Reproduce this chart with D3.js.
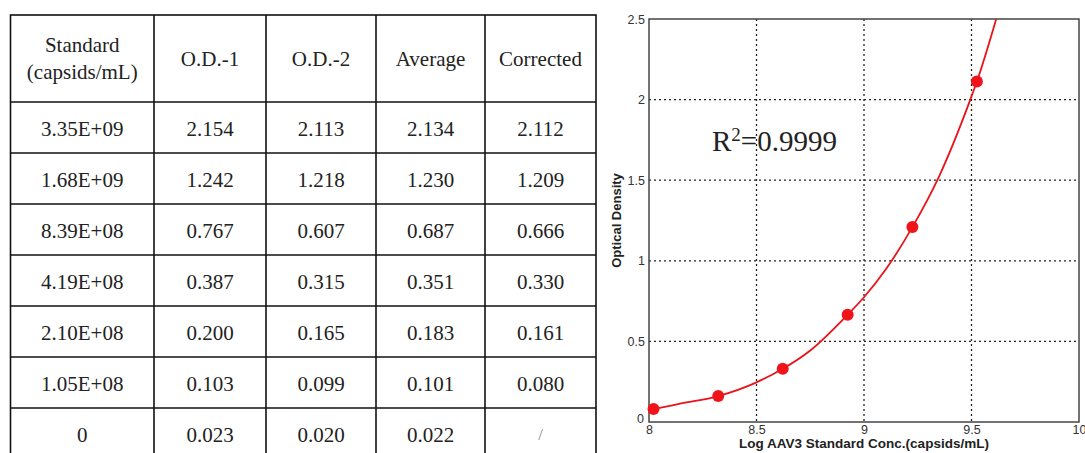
<!DOCTYPE html>
<html>
<head>
<meta charset="utf-8">
<script src="https://cdn.jsdelivr.net/npm/d3@7"></script>
<style>
  body { margin: 0; background: #fff; }
  svg { display: block; }
  .cell { font-family: "Liberation Serif", "Times New Roman", serif; font-size: 21px; fill: #222; }
  .tick text { font-family: "Liberation Sans", Arial, sans-serif; font-size: 12.5px; fill: #333; }
  .title { font-family: "Liberation Sans", Arial, sans-serif; font-size: 13px; font-weight: bold; fill: #222; }
</style>
</head>
<body>
<script>
// table data
var headers = [["Standard", "(capsids/mL)"], ["O.D.-1"], ["O.D.-2"], ["Average"], ["Corrected"]];
var standards = ["3.35E+09", "1.68E+09", "8.39E+08", "4.19E+08", "2.10E+08", "1.05E+08", "0"];
var od1 = ["2.154", "1.242", "0.767", "0.387", "0.200", "0.103", "0.023"];
var od2 = ["2.113", "1.218", "0.607", "0.315", "0.165", "0.099", "0.020"];
var average = ["2.134", "1.230", "0.687", "0.351", "0.183", "0.101", "0.022"];
var corrected = ["2.112", "1.209", "0.666", "0.330", "0.161", "0.080", "/"];

// standard curve points (log conc vs corrected OD)
var logConc = [9.525, 9.225, 8.924, 8.622, 8.322, 8.021];
var odPoints = [2.112, 1.209, 0.666, 0.330, 0.161, 0.080];
// fitted curve
var fitX = [8.0, 8.021, 8.15, 8.322, 8.5, 8.622, 8.75, 8.924, 9.0, 9.1, 9.225, 9.35, 9.5, 9.525, 9.615];
var fitY = [0.074, 0.080, 0.115, 0.161, 0.246, 0.330, 0.444, 0.666, 0.774, 0.944, 1.209, 1.526, 2.02, 2.112, 2.5];
var xTicks = [8, 8.5, 9, 9.5, 10];
var yTicks = [0, 0.5, 1, 1.5, 2, 2.5];

var svg = d3.select("body").append("svg").attr("width", 1085).attr("height", 453);

// ---- table ----
var colEdges = [10.5, 154, 266, 376, 485, 596];
var tableTop = 15, headH = 87, rowH = 51;
var rowY = d3.scaleBand().domain(d3.range(standards.length))
    .range([tableTop + headH, tableTop + headH + rowH * standards.length]);
var columns = [standards, od1, od2, average, corrected];

var table = svg.append("g").attr("class", "table");
table.append("rect")
    .attr("x", colEdges[0]).attr("y", tableTop)
    .attr("width", colEdges[5] - colEdges[0]).attr("height", headH + rowH * standards.length)
    .attr("fill", "none").attr("stroke", "#111").attr("stroke-width", 1.6);
table.selectAll("line.col").data(colEdges.slice(1, 5)).enter().append("line")
    .attr("class", "col")
    .attr("x1", function (d) { return d; }).attr("x2", function (d) { return d; })
    .attr("y1", tableTop).attr("y2", tableTop + headH + rowH * standards.length)
    .attr("stroke", "#111").attr("stroke-width", 1.6);
table.selectAll("line.row").data(d3.range(standards.length)).enter().append("line")
    .attr("class", "row")
    .attr("x1", colEdges[0]).attr("x2", colEdges[5])
    .attr("y1", function (d) { return rowY(d); }).attr("y2", function (d) { return rowY(d); })
    .attr("stroke", "#111").attr("stroke-width", 1.6);

headers.forEach(function (lines, c) {
  var cx = (colEdges[c] + colEdges[c + 1]) / 2;
  var cy = tableTop + headH / 2;
  lines.forEach(function (t, i) {
    table.append("text").attr("class", "cell")
        .attr("x", cx).attr("y", cy + (i - (lines.length - 1) / 2) * 27)
        .attr("text-anchor", "middle").attr("dominant-baseline", "central")
        .text(t);
  });
});

columns.forEach(function (col, c) {
  var cx = (colEdges[c] + colEdges[c + 1]) / 2;
  table.selectAll("text.c" + c).data(col).enter().append("text")
      .attr("class", "cell c" + c)
      .attr("x", cx)
      .attr("y", function (d, i) { return rowY(i) + rowY.bandwidth() / 2 + 1; })
      .attr("text-anchor", "middle").attr("dominant-baseline", "central")
      .style("font-size", function (d) { return d === "/" ? "17px" : null; })
      .style("fill", function (d) { return d === "/" ? "#888" : null; })
      .text(function (d) { return d; });
});

// ---- chart ----
var plot = { left: 649, top: 19, right: 1079, bottom: 422 };
var x = d3.scaleLinear().domain([8, 10]).range([plot.left, plot.right]);
var y = d3.scaleLinear().domain([0, 2.5]).range([plot.bottom, plot.top]);

var chart = svg.append("g").attr("class", "chart");

chart.selectAll("line.vgrid").data(xTicks.slice(1, -1)).enter().append("line")
    .attr("class", "vgrid")
    .attr("x1", function (d) { return x(d); }).attr("x2", function (d) { return x(d); })
    .attr("y1", plot.top).attr("y2", plot.bottom)
    .attr("stroke", "#222").attr("stroke-width", 1.3).attr("stroke-dasharray", "2,3");
chart.selectAll("line.hgrid").data(yTicks.slice(1, -1)).enter().append("line")
    .attr("class", "hgrid")
    .attr("x1", plot.left).attr("x2", plot.right)
    .attr("y1", function (d) { return y(d); }).attr("y2", function (d) { return y(d); })
    .attr("stroke", "#222").attr("stroke-width", 1.3).attr("stroke-dasharray", "2,3");

var xAxis = chart.append("g").attr("transform", "translate(0," + plot.bottom + ")")
    .call(d3.axisBottom(x).tickValues(xTicks).tickSize(0).tickPadding(3)
      .tickFormat(function (d) { return String(d); }));
var yAxis = chart.append("g").attr("transform", "translate(" + plot.left + ",0)")
    .call(d3.axisLeft(y).tickValues(yTicks).tickSize(0).tickPadding(4)
      .tickFormat(function (d) { return String(d); }));
xAxis.select(".domain").remove();
yAxis.select(".domain").remove();
// zero label sits a bit left, as in the original
yAxis.selectAll(".tick text").filter(function (d) { return d === 0; }).attr("dx", -1).attr("dy", "0.05em");

chart.append("rect")
    .attr("x", plot.left).attr("y", plot.top)
    .attr("width", plot.right - plot.left).attr("height", plot.bottom - plot.top)
    .attr("fill", "none").attr("stroke", "#444").attr("stroke-width", 1.5);

var fit = fitX.map(function (d, i) { return [d, fitY[i]]; });
chart.append("path").datum(fit)
    .attr("fill", "none").attr("stroke", "#e8141a").attr("stroke-width", 1.8)
    .attr("d", d3.line().x(function (d) { return x(d[0]); }).y(function (d) { return y(d[1]); })
      .curve(d3.curveMonotoneX));

chart.selectAll("circle.pt").data(logConc).enter().append("circle")
    .attr("class", "pt")
    .attr("cx", function (d) { return x(d); })
    .attr("cy", function (d, i) { return y(odPoints[i]); })
    .attr("r", 6).attr("fill", "#f0141a");

chart.append("text").attr("class", "title")
    .attr("transform", "translate(621," + ((plot.top + plot.bottom) / 2) + ") rotate(-90)")
    .attr("text-anchor", "middle")
    .text("Optical Density");
chart.append("text").attr("class", "title")
    .attr("x", x(9)).attr("y", 448)
    .attr("text-anchor", "middle").style("font-size", "13.5px")
    .text("Log AAV3 Standard Conc.(capsids/mL)");

var r2 = chart.append("text")
    .attr("x", 712).attr("y", 151)
    .style("font-family", "'Liberation Serif', 'Times New Roman', serif")
    .style("font-size", "29px").style("fill", "#222");
r2.append("tspan").text("R");
r2.append("tspan").attr("dy", -10).style("font-size", "19px").text("2");
r2.append("tspan").attr("dy", 10).text("=0.9999");
</script>
</body>
</html>
